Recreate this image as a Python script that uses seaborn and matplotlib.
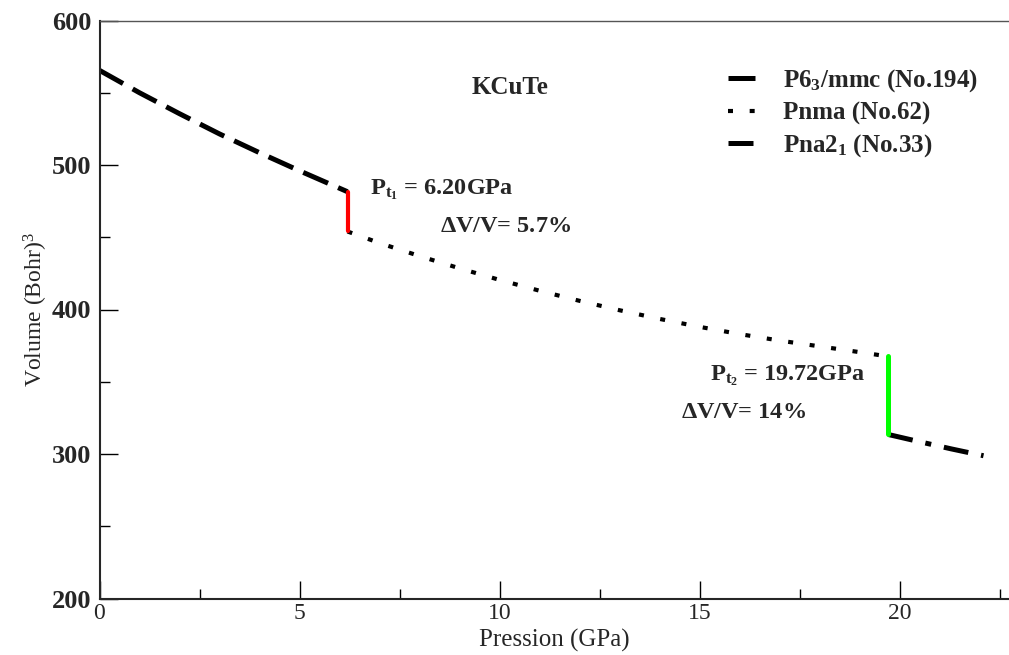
import matplotlib
matplotlib.use("Agg")
import matplotlib.pyplot as plt
import seaborn as sns
import numpy as np
import pandas as pd
from matplotlib.ticker import MultipleLocator

# ---- data ----
p_hex = [0.0, 1.0, 2.0, 3.0, 4.0, 5.0, 6.2]
v_hex = [565.5, 550.0, 535.5, 521.5, 508.5, 496.0, 481.5]

p_pnma = [6.2, 7.0, 8.0, 9.0, 10.0, 11.0, 12.0, 13.0, 14.0, 15.0, 16.0, 17.0, 18.0, 19.0, 19.72]
v_pnma = [454.0, 446.0, 437.0, 428.5, 420.5, 413.0, 406.0, 399.5, 393.5, 388.0, 383.0, 378.5, 374.5, 370.5, 367.5]

p_pna = [19.72, 20.5, 21.3, 22.1]
v_pna = [313.5, 308.5, 303.5, 298.8]

p_t1 = [6.2, 6.2]
v_t1 = [481.5, 454.0]
p_t2 = [19.72, 19.72]
v_t2 = [367.5, 313.5]

labels = [r"P6$_\mathbf{3}$/mmc (No.194)", "Pnma (No.62)", r"Pna2$_\mathbf{1}$ (No.33)"]
title_txt = "KCuTe"
ann1a = r"P$_{\mathbf{t}_\mathbf{1}}$ = 6.20GPa"
ann1b = r"$\mathbf{\Delta}$V/V= 5.7%"
ann2a = r"P$_{\mathbf{t}_\mathbf{2}}$ = 19.72GPa"
ann2b = r"$\mathbf{\Delta}$V/V= 14%"

sns.set_style("ticks")
plt.rcParams['font.family'] = ['Liberation Serif', 'DejaVu Serif']
plt.rcParams['mathtext.fontset'] = 'custom'
plt.rcParams['mathtext.rm'] = 'Liberation Serif'
plt.rcParams['mathtext.bf'] = 'Liberation Serif:bold'
plt.rcParams['mathtext.it'] = 'Liberation Serif:italic'

fig = plt.figure(figsize=(10.09, 6.55), dpi=100)
W, H = 1009, 655
ax = fig.add_axes([99.5 / W, 1 - 598.5 / H, 1 - 99.5 / W, (598.5 - 20.5) / H])

def seg(x, y, **kw):
    df = pd.DataFrame({"x": x, "y": y})
    sns.lineplot(data=df, x="x", y="y", ax=ax, estimator=None, sort=False, **kw)

seg(p_hex, v_hex, color="black", linewidth=3.6, linestyle=(0, (5.4, 2.2)),
    dash_capstyle="butt", label=labels[0])
seg(p_pnma, v_pnma, color="black", linewidth=3.0, linestyle=(0, (1.2, 4.0)),
    dash_capstyle="butt", label=labels[1])
seg(p_pna, v_pna, color="black", linewidth=3.6, linestyle=(0, (5.0, 2.6, 1.2, 2.6)),
    dash_capstyle="butt", label=labels[2])
seg(p_t1, v_t1, color="#ff0000", linewidth=3.0)
seg(p_t2, v_t2, color="#00ff00", linewidth=3.6)

ax.set_xlim(0, (W - 99.5) / 40.0)
ax.set_ylim(200, 600)
ax.xaxis.set_major_locator(MultipleLocator(5))
ax.xaxis.set_minor_locator(MultipleLocator(2.5))
ax.yaxis.set_major_locator(MultipleLocator(100))
ax.yaxis.set_minor_locator(MultipleLocator(50))
ax.tick_params(which="major", direction="in", length=13, width=1.0, color="black")
ax.tick_params(which="minor", direction="in", length=7, width=1.0, color="black")
ax.tick_params(axis="x", which="major", labelsize=17, pad=3)
ax.tick_params(axis="y", which="major", labelsize=19, pad=6)
for t in ax.get_yticklabels():
    t.set_fontweight("bold")

ax.spines["right"].set_visible(False)
ax.spines["left"].set_linewidth(1.5)
ax.spines["bottom"].set_linewidth(1.5)
ax.spines["top"].set_linewidth(1.0)
ax.spines["top"].set_color("#555555")

ax.set_xlabel("Pression (GPa)", fontsize=18, labelpad=4)
ax.set_ylabel(r"Volume (Bohr)$^\mathrm{3}$", fontsize=17, labelpad=1)

ax.text(510 / W, 1 - 88 / H, title_txt, transform=fig.transFigure, ha="center", va="center",
        fontsize=18, fontweight="bold")
ax.text(370 / W, 1 - 190 / H, ann1a, transform=fig.transFigure, ha="left", va="center",
        fontsize=17.5, fontweight="bold")
ax.text(440 / W, 1 - 226 / H, ann1b, transform=fig.transFigure, ha="left", va="center",
        fontsize=17.5, fontweight="bold")
ax.text(710 / W, 1 - 376 / H, ann2a, transform=fig.transFigure, ha="left", va="center",
        fontsize=17.5, fontweight="bold")
ax.text(681 / W, 1 - 412 / H, ann2b, transform=fig.transFigure, ha="left", va="center",
        fontsize=17.5, fontweight="bold")

handles = ax.get_lines()[:3]
leg = ax.legend(handles=handles, labels=labels, loc="upper left",
                bbox_to_anchor=(728 / W, 1 - 67 / H), bbox_transform=fig.transFigure,
                frameon=False, borderpad=0, borderaxespad=0, handlelength=1.2,
                handletextpad=1.0, labelspacing=0.3,
                prop={"family": "Liberation Serif", "weight": "bold", "size": 18})

fig.savefig("out.png", dpi=100)
